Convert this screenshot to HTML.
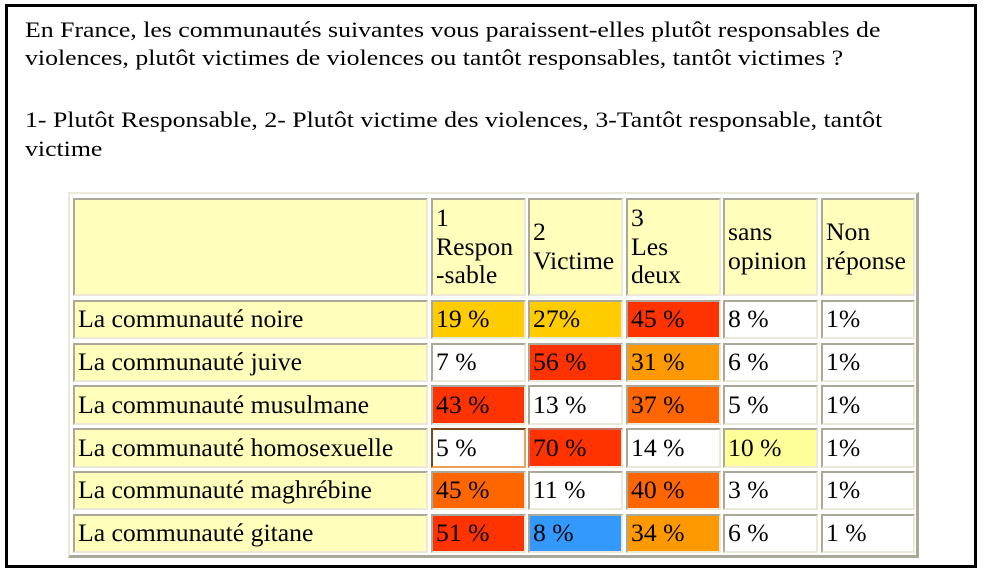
<!DOCTYPE html>
<html>
<head>
<meta charset="utf-8">
<style>
  html, body { margin:0; padding:0; }
  body { width:986px; height:574px; background:#fff; position:relative; overflow:hidden;
         font-family:"Liberation Serif", Tinos, Times, "Times New Roman", serif; color:#000; }
  .frame { position:absolute; left:5px; top:4px; width:966px; height:558px; border:3px solid #000; }
  .tl { position:absolute; left:25px; font-size:25.8px; line-height:1; white-space:nowrap;
        font-family:"Liberation Serif", Tinos, Times, serif;
        transform:scaleY(0.87); transform-origin:0 21.6px; }
  .tbl { position:absolute; left:68px; top:192px; width:846px; height:361px;
         border-style:solid; border-width:2px 3px 3px 2px;
         border-color:#ece9d8 #aca899 #aca899 #ece9d8; background:#fff; }
  .c { position:absolute; box-sizing:border-box; border-style:solid; border-width:2px;
       border-color:#aca899 #ece9d8 #ece9d8 #aca899; padding:0 0 0 3px;
       font-family:"Liberation Serif", Tinos, Times, serif;
       display:flex; align-items:center; font-size:25.7px; line-height:28.7px; white-space:nowrap; }
  .y { background:#ffffbb; }
  .w { background:#fff; }
  .o1 { background:#ffcc00; }
  .r { background:#ff3300; }
  .o2 { background:#ff9900; }
  .o3 { background:#ff6600; }
  .b { background:#3399ff; }
  .ly { background:#ffff99; }
</style>
</head>
<body>
<div class="frame"></div>

<div class="tl" style="top:15.7px;">En France, les communautés suivantes vous paraissent-elles plutôt responsables de</div>
<div class="tl" style="top:44.1px;">violences, plutôt victimes de violences ou tantôt responsables, tantôt victimes ?</div>
<div class="tl" style="top:105.7px;">1- Plutôt Responsable, 2- Plutôt victime des violences, 3-Tantôt responsable, tantôt</div>
<div class="tl" style="top:135.1px;">victime</div>

<div class="tbl"></div>

<!-- header row -->
<div class="c y" style="left:73px;top:198px;width:355px;height:98px;"></div>
<div class="c y" style="left:431px;top:198px;width:95px;height:98px;">1<br>Respon<br>-sable</div>
<div class="c y" style="left:528px;top:198px;width:95px;height:98px;">2<br>Victime</div>
<div class="c y" style="left:626px;top:198px;width:95px;height:98px;">3<br>Les<br>deux</div>
<div class="c y" style="left:723px;top:198px;width:95px;height:98px;">sans<br>opinion</div>
<div class="c y" style="left:821px;top:198px;width:94px;height:98px;">Non<br>réponse</div>

<!-- row 1 -->
<div class="c y" style="left:73px;top:300px;width:355px;height:39px;">La communauté noire</div>
<div class="c o1" style="left:431px;top:300px;width:95px;height:39px;">19 %</div>
<div class="c o1" style="left:528px;top:300px;width:95px;height:39px;">27%</div>
<div class="c r" style="left:626px;top:300px;width:95px;height:39px;">45 %</div>
<div class="c w" style="left:723px;top:300px;width:95px;height:39px;">8 %</div>
<div class="c w" style="left:821px;top:300px;width:94px;height:39px;">1%</div>

<!-- row 2 -->
<div class="c y" style="left:73px;top:343px;width:355px;height:39px;">La communauté juive</div>
<div class="c w" style="left:431px;top:343px;width:95px;height:39px;">7 %</div>
<div class="c r" style="left:528px;top:343px;width:95px;height:39px;">56 %</div>
<div class="c o2" style="left:626px;top:343px;width:95px;height:39px;">31 %</div>
<div class="c w" style="left:723px;top:343px;width:95px;height:39px;">6 %</div>
<div class="c w" style="left:821px;top:343px;width:94px;height:39px;">1%</div>

<!-- row 3 -->
<div class="c y" style="left:73px;top:385px;width:355px;height:40px;">La communauté musulmane</div>
<div class="c r" style="left:431px;top:385px;width:95px;height:40px;">43 %</div>
<div class="c w" style="left:528px;top:385px;width:95px;height:40px;">13 %</div>
<div class="c o3" style="left:626px;top:385px;width:95px;height:40px;">37 %</div>
<div class="c w" style="left:723px;top:385px;width:95px;height:40px;">5 %</div>
<div class="c w" style="left:821px;top:385px;width:94px;height:40px;">1%</div>

<!-- row 4 -->
<div class="c y" style="left:73px;top:428px;width:355px;height:40px;">La communauté homosexuelle</div>
<div class="c w" style="left:431px;top:428px;width:95px;height:40px;border-color:#7a4a1a #f0a050 #f0a050 #7a4a1a;">5 %</div>
<div class="c r" style="left:528px;top:428px;width:95px;height:40px;border-color:#c87060 #ece9d8 #ece9d8 #c87060;">70 %</div>
<div class="c w" style="left:626px;top:428px;width:95px;height:40px;">14 %</div>
<div class="c ly" style="left:723px;top:428px;width:95px;height:40px;">10 %</div>
<div class="c w" style="left:821px;top:428px;width:94px;height:40px;">1%</div>

<!-- row 5 -->
<div class="c y" style="left:73px;top:471px;width:355px;height:39px;">La communauté maghrébine</div>
<div class="c o3" style="left:431px;top:471px;width:95px;height:39px;">45 %</div>
<div class="c w" style="left:528px;top:471px;width:95px;height:39px;">11 %</div>
<div class="c o3" style="left:626px;top:471px;width:95px;height:39px;">40 %</div>
<div class="c w" style="left:723px;top:471px;width:95px;height:39px;">3 %</div>
<div class="c w" style="left:821px;top:471px;width:94px;height:39px;">1%</div>

<!-- row 6 -->
<div class="c y" style="left:73px;top:514px;width:355px;height:39px;">La communauté gitane</div>
<div class="c r" style="left:431px;top:514px;width:95px;height:39px;">51 %</div>
<div class="c b" style="left:528px;top:514px;width:95px;height:39px;">8 %</div>
<div class="c o2" style="left:626px;top:514px;width:95px;height:39px;">34 %</div>
<div class="c w" style="left:723px;top:514px;width:95px;height:39px;">6 %</div>
<div class="c w" style="left:821px;top:514px;width:94px;height:39px;">1 %</div>

</body>
</html>
